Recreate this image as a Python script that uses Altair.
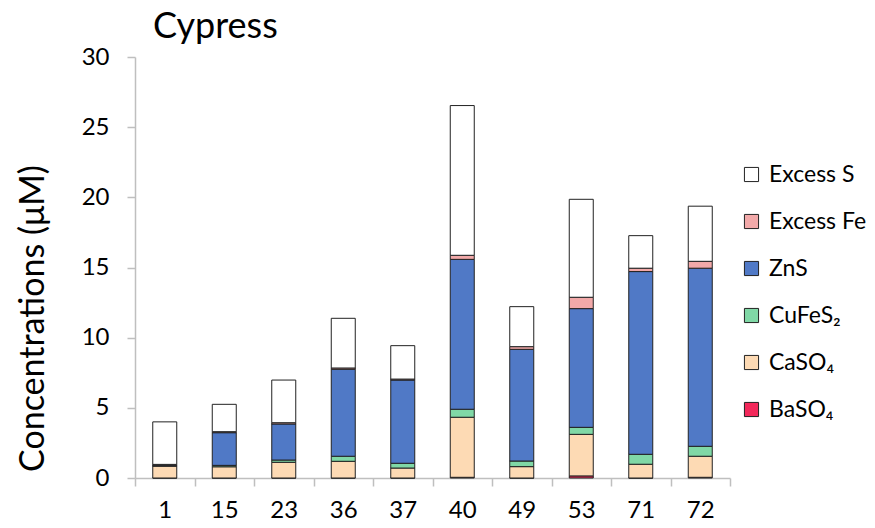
import altair as alt
import pandas as pd

sites = ["1", "15", "23", "36", "37", "40", "49", "53", "71", "72"]
baso4 = [0, 0, 0, 0, 0, 0.05, 0, 0.15, 0, 0.05]
caso4 = [0.85, 0.8, 1.12, 1.19, 0.71, 4.28, 0.81, 2.96, 0.98, 1.5]
cufes2 = [0.02, 0.1, 0.16, 0.36, 0.34, 0.57, 0.4, 0.5, 0.71, 0.71]
zns = [0.05, 2.33, 2.57, 6.2, 5.93, 10.68, 7.96, 8.46, 13.02, 12.69]
excess_fe = [0.05, 0.07, 0.09, 0.09, 0.07, 0.29, 0.19, 0.81, 0.24, 0.49]
excess_s = [3.03, 1.95, 3.04, 3.54, 2.38, 10.67, 2.85, 6.98, 2.32, 3.93]

stack_names = ["BaSO₄", "CaSO₄", "CuFeS₂", "ZnS", "Excess Fe", "Excess S"]
stack_values = [baso4, caso4, cufes2, zns, excess_fe, excess_s]
legend_order = ["Excess S", "Excess Fe", "ZnS", "CuFeS₂", "CaSO₄", "BaSO₄"]
legend_colors = ["#FFFFFF", "#F2A9A9", "#5079C6", "#80D8A6", "#FDDAB4", "#F2285A"]

rows = []
for idx, (name, vals) in enumerate(zip(stack_names, stack_values)):
    for s, v in zip(sites, vals):
        rows.append({"site": s, "component": name, "value": v, "stack_idx": idx})
df = pd.DataFrame(rows)

FONT = "Lato"

chart = alt.Chart(df).mark_bar(size=24, stroke="#222222", strokeWidth=1).encode(
    x=alt.X("site:N", sort=sites, title=None,
            scale=alt.Scale(paddingInner=0, paddingOuter=0),
            axis=alt.Axis(labelAngle=0, tickBand="extent", tickSize=8,
                          labelPadding=12, labelFontSize=24)),
    y=alt.Y("value:Q", stack="zero", title="Concentrations (μM)",
            scale=alt.Scale(domain=[0, 30], nice=False),
            axis=alt.Axis(values=[0, 5, 10, 15, 20, 25, 30], tickSize=8,
                          labelPadding=18, labelFontSize=24, grid=False,
                          titleFontSize=34, titleAngle=270, titleX=-102, titleY=261,
                          titleAlign="center", titleBaseline="middle")),
    color=alt.Color("component:N",
                    scale=alt.Scale(domain=legend_order, range=legend_colors),
                    legend=alt.Legend(title=None, orient="none", legendX=605, legendY=106,
                                      symbolType="square", symbolSize=200,
                                      symbolStrokeColor="#222222", symbolStrokeWidth=1,
                                      labelFontSize=23, labelOffset=6, rowPadding=23)),
    order=alt.Order("stack_idx:Q", sort="ascending"),
).properties(
    width=595, height=421,
    title=alt.TitleParams("Cypress", anchor="start", frame="group", dx=18, dy=13,
                          fontSize=36, fontWeight="normal", font=FONT,
                          color="#000000", offset=12),
    autosize=alt.AutoSizeParams(type="none"),
    padding={"left": 127, "top": 49, "right": 137, "bottom": 50},
).configure_view(stroke=None).configure_axis(
    domainColor="#BFBFBF", domainWidth=1.5, tickColor="#BFBFBF", tickWidth=1.5,
    labelColor="#000000", titleColor="#000000", labelFont=FONT, titleFont=FONT,
    titleFontWeight="normal",
).configure_legend(labelFont=FONT, labelColor="#000000")

chart.save("out.html", embed_options={"renderer": "svg", "actions": False})
